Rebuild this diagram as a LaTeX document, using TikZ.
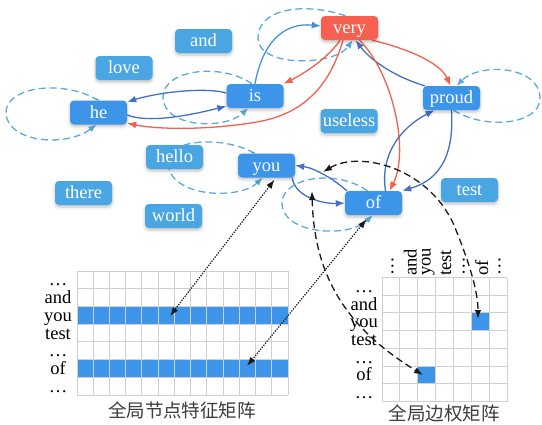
\documentclass[tikz,border=0pt]{standalone}
\usepackage{fontspec}
\setmainfont{Liberation Serif}
\newfontfamily\cjkfont{Noto Sans CJK SC}
\usetikzlibrary{arrows.meta,shadows.blur}

\definecolor{keyblue}{RGB}{61,149,234}
\definecolor{softblue}{RGB}{74,166,226}
\definecolor{headred}{RGB}{245,96,80}
\definecolor{edgeblue}{RGB}{68,112,196}
\definecolor{edgesky}{RGB}{74,144,217}
\definecolor{edgered}{RGB}{245,96,76}
\definecolor{loopblue}{RGB}{90,170,224}
\definecolor{gridgray}{RGB}{208,208,208}
\definecolor{cellblue}{RGB}{61,149,234}
\definecolor{captiongray}{RGB}{60,60,60}

\pgfdeclarelayer{links}
\pgfsetlayers{links,main}

\tikzset{
  word/.style={rounded corners=4pt, minimum width=57pt, minimum height=24pt,
    inner sep=0pt, text=white, text height=12.5pt, text depth=1.5pt,
    font=\fontsize{18.5}{18.5}\selectfont,
    blur shadow={shadow xshift=0pt, shadow yshift=-2pt, shadow blur radius=3pt, shadow opacity=25}},
  keyword/.style={word, fill=keyblue},
  plainword/.style={word, fill=softblue},
  headword/.style={word, fill=headred},
  tip/.style={-{Latex[length=9pt,width=7pt]}},
  bluelink/.style={tip, draw=edgeblue, line width=1.3pt},
  skylink/.style={tip, draw=edgesky, line width=1.3pt},
  redlink/.style={tip, draw=edgered, line width=1.3pt},
  selfloop/.style={draw=loopblue, line width=1.3pt, dash pattern=on 7pt off 4pt,
    -{Latex[length=8pt,width=6.5pt]}},
  lookup/.style={draw=black!90, line width=1.2pt, dash pattern=on 1.3pt off 1.3pt,
    {Latex[length=9pt,width=6.5pt]}-{Latex[length=9pt,width=6.5pt]}},
  edgelookup/.style={draw=black!90, line width=1.3pt, dash pattern=on 7pt off 4pt,
    {Latex[length=9pt,width=6.5pt]}-{Latex[length=9pt,width=6.5pt]}},
  gridline/.style={draw=gridgray, line width=0.9pt},
  rowlabel/.style={anchor=base, inner sep=0pt, font=\fontsize{18.5}{18.5}\selectfont},
  collabel/.style={anchor=west, rotate=90, inner sep=0pt, font=\fontsize{18.5}{18.5}\selectfont},
  caption/.style={inner sep=0pt, text=captiongray, font=\cjkfont\fontsize{18.5}{18.5}\selectfont}
}

\begin{document}
\begin{tikzpicture}[x=1pt,y=-1pt]
\useasboundingbox (0,0) rectangle (542,424);

% word nodes of the graph
\node[headword]  (very)    at (349.5,28)  {very};
\node[plainword] (and)     at (203.5,41)  {and};
\node[plainword] (love)    at (124,68)    {love};
\node[keyword]   (he)      at (98.5,112.5) {he};
\node[keyword]   (is)      at (255,96)    {is};
\node[keyword]   (proud)   at (451.5,98)  {proud};
\node[plainword] (useless) at (349,121)   {useless};
\node[plainword] (hello)   at (174.5,157) {hello};
\node[keyword]   (you)     at (266.5,165.5) {you};
\node[plainword] (there)   at (83.5,193)  {there};
\node[plainword] (world)   at (173.5,216) {world};
\node[keyword]   (of)      at (373.5,203) {of};
\node[plainword] (test)    at (469.5,190) {test};

\begin{pgfonlayer}{links}
  % self loops
  \draw[selfloop] ([xshift=-4pt]very.north) .. controls (305,2) and (258,8) .. (258,38)
        .. controls (258,68) and (335,66) .. ([xshift=3pt]very.south);
  \draw[selfloop] (he.north) .. controls (60,78) and (5,88) .. (6,113)
        .. controls (7,142) and (65,148) .. ([xshift=-2pt]he.south);
  \draw[selfloop] ([xshift=-3pt]is.north) .. controls (220,62) and (163,70) .. (163,97)
        .. controls (163,128) and (225,130) .. ([xshift=-7pt]is.south);
  \draw[selfloop] ([xshift=-12pt]you.north) .. controls (225,136) and (168,138) .. (168,162)
        .. controls (168,198) and (240,200) .. ([xshift=-4pt]you.south);
  \draw[selfloop] ([xshift=2pt]proud.south) .. controls (485,130) and (540,125) .. (540,98)
        .. controls (540,66) and (480,62) .. ([xshift=5pt]proud.north);
  \draw[selfloop] ([xshift=-6pt]of.north) .. controls (335,168) and (282,178) .. (282,203)
        .. controls (282,235) and (350,238) .. ([xshift=-1pt]of.south);

  % edges between words
  \draw[bluelink] ([yshift=3pt]is.west) .. controls (205,87) and (160,92) .. ([yshift=-1.5pt]he.north east);
  \draw[bluelink] ([yshift=-2.5pt]he.east) .. controls (150,124) and (195,114) .. ([yshift=2pt]is.south west);
  \draw[redlink] ([xshift=-6.5pt]very.south) .. controls (330,85) and (305,112) .. (262,121)
        .. controls (215,130) and (160,130) .. ([yshift=1.5pt]he.south east);
  \draw[redlink] ([xshift=-9.5pt]very.south) .. controls (328,58) and (305,73) .. (is.north east);
  \draw[skylink] (is.north) .. controls (262,45) and (282,22) .. ([yshift=2pt]very.west);
  \draw[redlink] ([xshift=-6pt]very.south east) .. controls (405,48) and (440,62) .. ([xshift=-1pt]proud.north);
  \draw[bluelink] ([xshift=2pt]proud.north west) .. controls (398,78) and (372,62) .. ([xshift=6pt]very.south);
  \draw[redlink] ([xshift=10pt]very.south) .. controls (392,72) and (410,150) .. ([xshift=16pt]of.north);
  \draw[bluelink] ([xshift=12pt]of.north) .. controls (380,155) and (400,128) .. ([xshift=-17pt]proud.south);
  \draw[bluelink] (proud.south) .. controls (455,165) and (432,182) .. (of.north east);
  \draw[bluelink] ([xshift=2pt]of.north west) .. controls (335,180) and (315,168) .. (you.east);
  \draw[bluelink] ([xshift=-3pt]you.south east) .. controls (295,198) and (325,204) .. (of.west);
\end{pgfonlayer}

% global node feature matrix
\foreach \r in {2,5}
  \fill[cellblue] (77,{271+\r*17.714}) rectangle (288,{271+(\r+1)*17.714});
\foreach \c in {0,...,13}
  \draw[gridline] ({77+\c*16.231},271) -- ({77+\c*16.231},395);
\foreach \r in {0,...,7}
  \draw[gridline] (77,{271+\r*17.714}) -- (288,{271+\r*17.714});
\foreach \t [count=\i from 0] in {\ldots,and,you,test,\ldots,of,\ldots}
  \node[rowlabel] (fl\i) at (58,{271+\i*17.714+8.857+6}) {\t};
\node[caption] (featcap) at (182,410) {全局节点特征矩阵};

% global edge weight matrix
\fill[cellblue] ({382+5*17.857},{277.5+2*17.714}) rectangle ({382+6*17.857},{277.5+3*17.714});
\fill[cellblue] ({382+2*17.857},{277.5+5*17.714}) rectangle ({382+3*17.857},{277.5+6*17.714});
\foreach \c in {0,...,7}
  \draw[gridline] ({382+\c*17.857},277.5) -- ({382+\c*17.857},401.5);
\foreach \r in {0,...,7}
  \draw[gridline] (382,{277.5+\r*17.714}) -- (507,{277.5+\r*17.714});
\foreach \t [count=\i from 0] in {\ldots,and,you,test,\ldots,of,\ldots}{
  \node[rowlabel] (al\i) at (364,{277.5+\i*17.714+8.857+6}) {\t};
  \node[collabel] (ac\i) at ({382+\i*17.857+8.93+1.5},276) {\t};
}
\node[caption] (adjcap) at (444,413) {全局边权矩阵};

% anchors inside the matrices and on the edges
\coordinate (feat-you) at (170,316);
\coordinate (feat-of) at (247,366);
\coordinate (adj-you-of) at (478,319);
\coordinate (adj-of-you) at (423,375);
\coordinate (edge-of-you) at (323,172);
\coordinate (edge-you-of) at (312,191);

% lookups between graph and matrices
\draw[lookup] ([xshift=8pt,yshift=-2pt]you.south) -- (feat-you);
\draw[lookup] ([xshift=-7pt,yshift=-4pt]of.south) -- (feat-of);
\draw[edgelookup] (edge-of-you) .. controls (360,150) and (432,168) .. (456,230)
      .. controls (470,265) and (478,292) .. (adj-you-of);
\draw[edgelookup] (edge-you-of) .. controls (314,280) and (350,330) .. (adj-of-you);
\end{tikzpicture}
\end{document}
